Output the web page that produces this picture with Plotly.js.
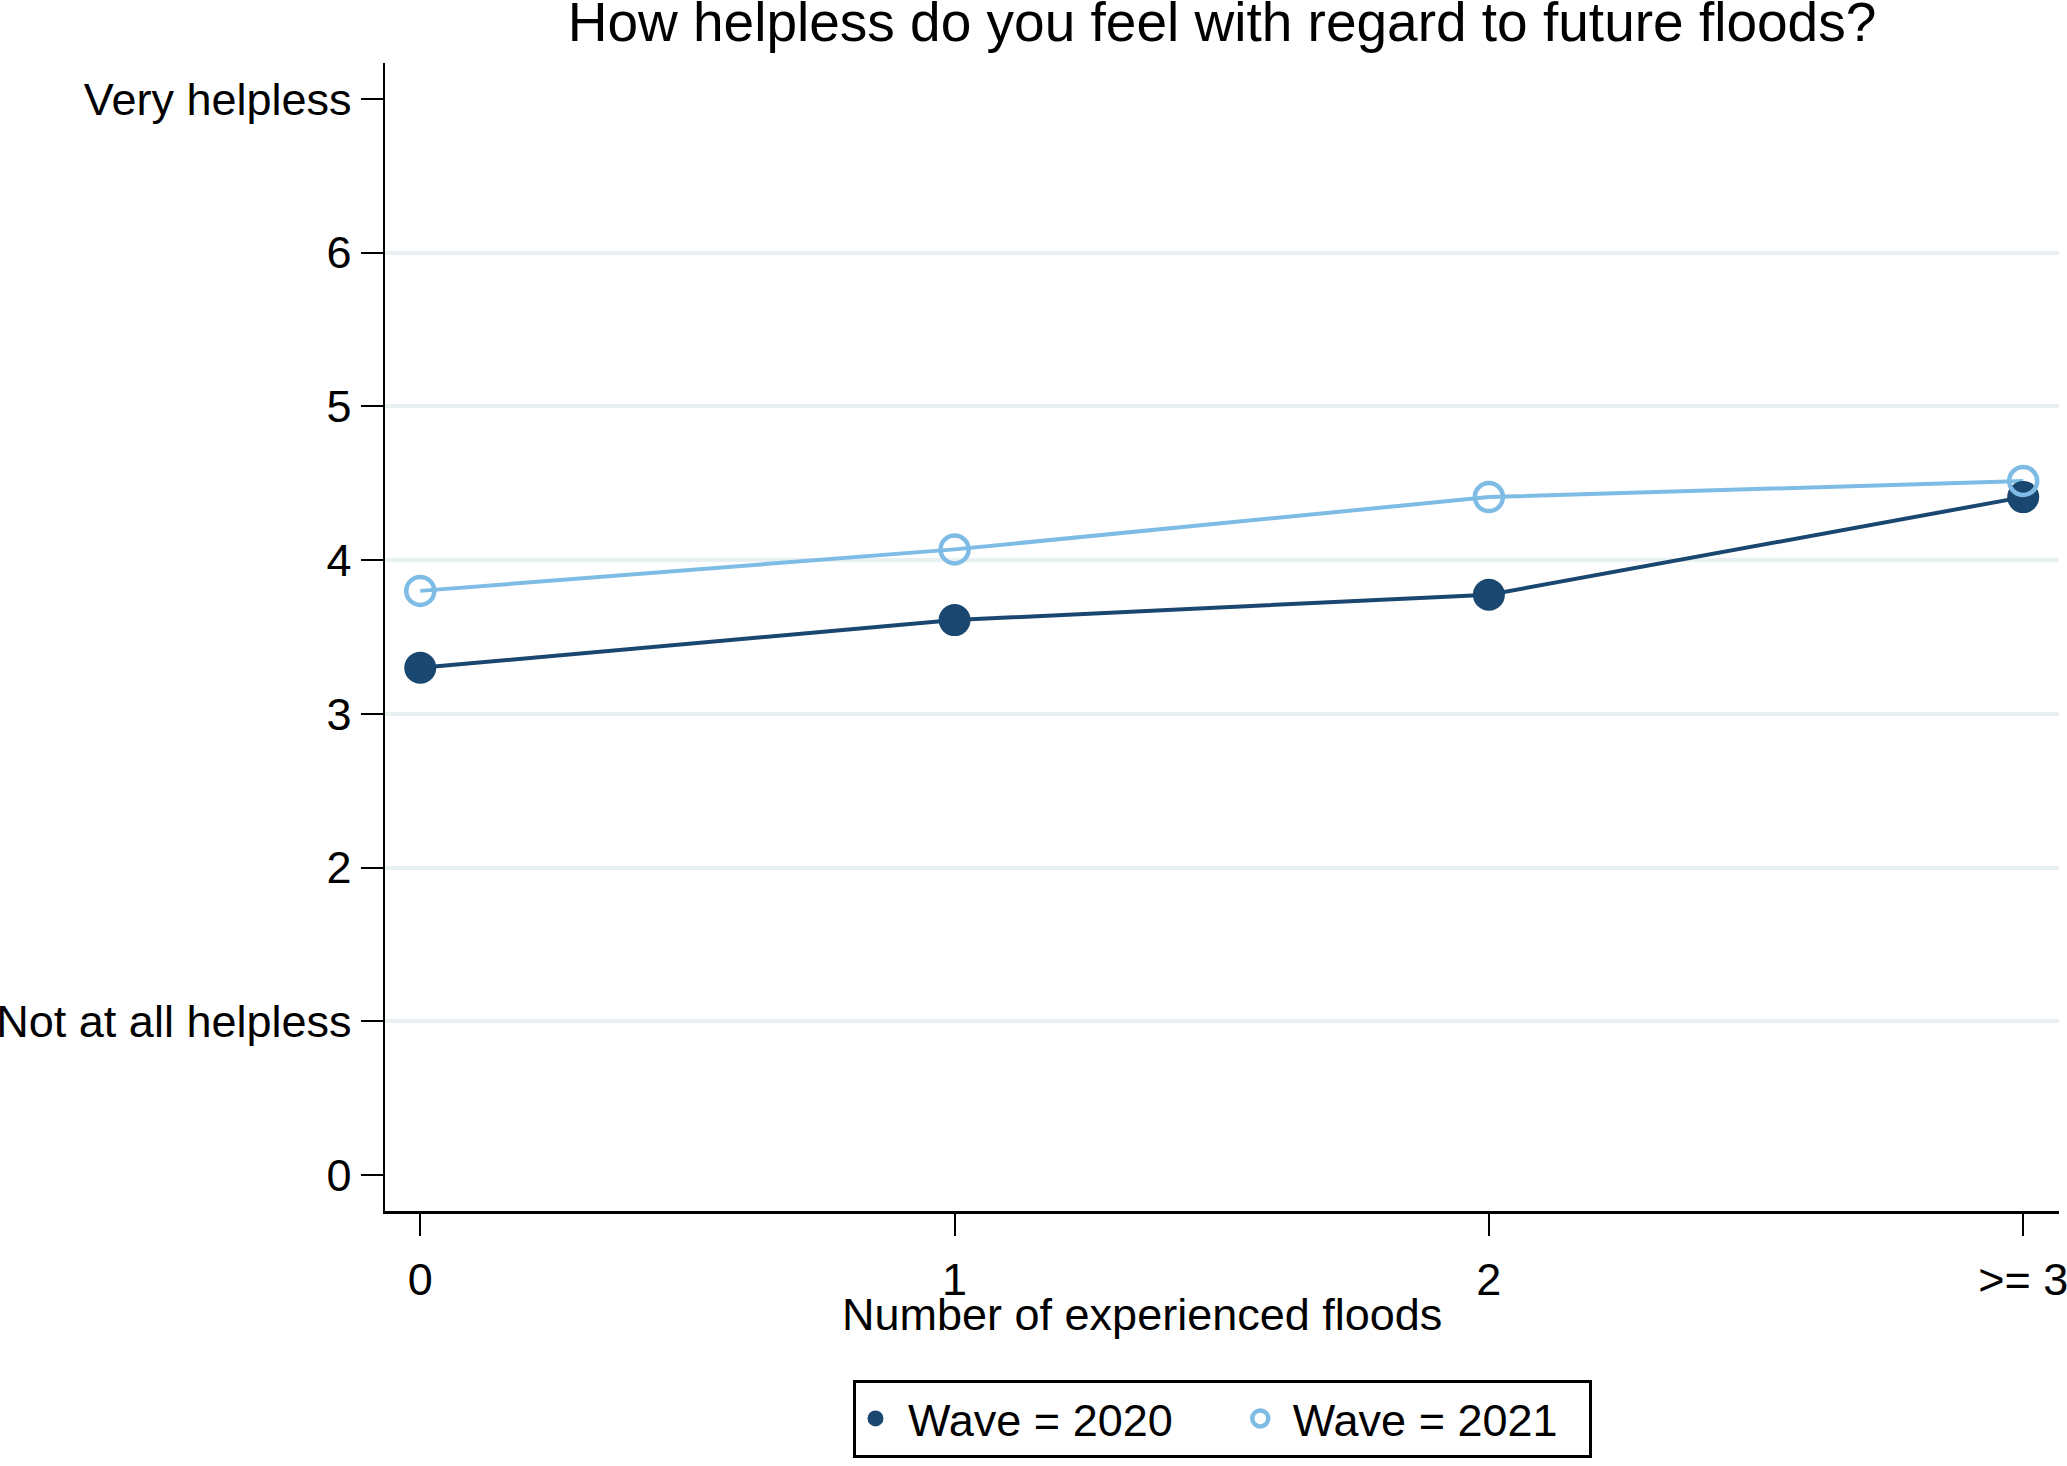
<!DOCTYPE html>
<html>
<head>
<meta charset="utf-8">
<script src="https://cdn.plot.ly/plotly-3.0.1.min.js"></script>
<style>html,body{margin:0;padding:0;background:#fff;}#chart{width:2067px;height:1466px;}</style>
</head>
<body>
<div id="chart"></div>
<script>
// ---- data ----
const categories = [0, 1, 2, 3];
const categoryLabels = ['0', '1', '2', '>= 3'];
const wave2020 = [3.30, 3.61, 3.775, 4.41];
const wave2021 = [3.80, 4.07, 4.41, 4.515];
const yTickVals = [0, 1, 2, 3, 4, 5, 6, 7];
const yTickLabels = ['0', 'Not at all helpless', '2', '3', '4', '5', '6', 'Very helpless'];
const gridVals = [1, 2, 3, 4, 5, 6];
const seriesNames = ['Wave = 2020', 'Wave = 2021'];

const navy = '#1a476f';
const ltblue = '#7ebce6';
const FONT = 'Liberation Sans, Arial, Helvetica, sans-serif';
const FS = 45;
const NB = '\u00a0';

const traces = [
  {x: [categories[0]], y: [gridVals[0]], yaxis: 'y2', type: 'scatter', mode: 'markers',
   marker: {opacity: 0}, showlegend: false, hoverinfo: 'skip'},
  {x: categories, y: wave2020, type: 'scatter', mode: 'lines', line: {color: navy, width: 4}, showlegend: false, hoverinfo: 'skip'},
  {x: categories, y: wave2021, type: 'scatter', mode: 'lines', line: {color: ltblue, width: 4}, showlegend: false, hoverinfo: 'skip'},
  {x: categories, y: wave2020, type: 'scatter', mode: 'markers', name: NB + seriesNames[0] + NB.repeat(5),
   marker: {color: navy, size: 32, line: {width: 0}}},
  {x: categories, y: wave2021, type: 'scatter', mode: 'markers', name: NB + seriesNames[1] + NB.repeat(2),
   marker: {color: ltblue, size: 28, symbol: 'circle-open', line: {color: ltblue, width: 4.5}}}
];

const yr = [-0.234, 7.234];
const layout = {
  width: 2067, height: 1466,
  paper_bgcolor: '#ffffff', plot_bgcolor: '#ffffff',
  margin: {l: 385, r: 8, t: 63, b: 253},
  font: {family: FONT, size: FS, color: '#000'},
  title: {text: 'How helpless do you feel with regard to future floods?', font: {family: FONT, size: 55, color: '#000'},
          x: 0.5, xref: 'paper', xanchor: 'center', y: 0.985, yref: 'container', yanchor: 'middle'},
  xaxis: {
    range: [-0.066, 3.067], tickvals: categories, ticktext: categoryLabels,
    showgrid: false, zeroline: false, showline: true, linecolor: '#000', linewidth: 2.5,
    ticks: 'outside', ticklen: 22, tickwidth: 2, tickcolor: '#000',
    tickfont: {family: FONT, size: FS, color: '#000'}, ticklabelstandoff: 5, ticklabeloverflow: 'allow'
  },
  yaxis: {
    range: yr, tickvals: yTickVals, ticktext: yTickLabels,
    showgrid: false, zeroline: false, showline: true, linecolor: '#000', linewidth: 2.5,
    ticks: 'outside', ticklen: 22, tickwidth: 2, tickcolor: '#000',
    tickfont: {family: FONT, size: FS, color: '#000'}, ticklabeloverflow: 'allow'
  },
  yaxis2: {
    range: yr, overlaying: 'y', side: 'left', tickvals: gridVals, showticklabels: false, ticks: '',
    showgrid: true, gridcolor: '#e8f0f1', gridwidth: 4, zeroline: false, showline: false
  },
  showlegend: true,
  legend: {
    orientation: 'h', x: 0.5, xanchor: 'center', y: -(1421 - 1213) / 1150, yanchor: 'middle',
    bordercolor: '#000', borderwidth: 3, bgcolor: '#fff',
    font: {family: FONT, size: FS, color: '#000'}, itemwidth: 30
  },
  annotations: [{
    text: 'Number of experienced floods', xref: 'paper', yref: 'paper',
    x: (1142 - 385) / 1674, y: -(1317 - 1213) / 1150, xanchor: 'center', yanchor: 'middle',
    showarrow: false, font: {family: FONT, size: FS, color: '#000'}
  }]
};

Plotly.newPlot('chart', traces, layout, {displayModeBar: false, staticPlot: true});
</script>
</body>
</html>
